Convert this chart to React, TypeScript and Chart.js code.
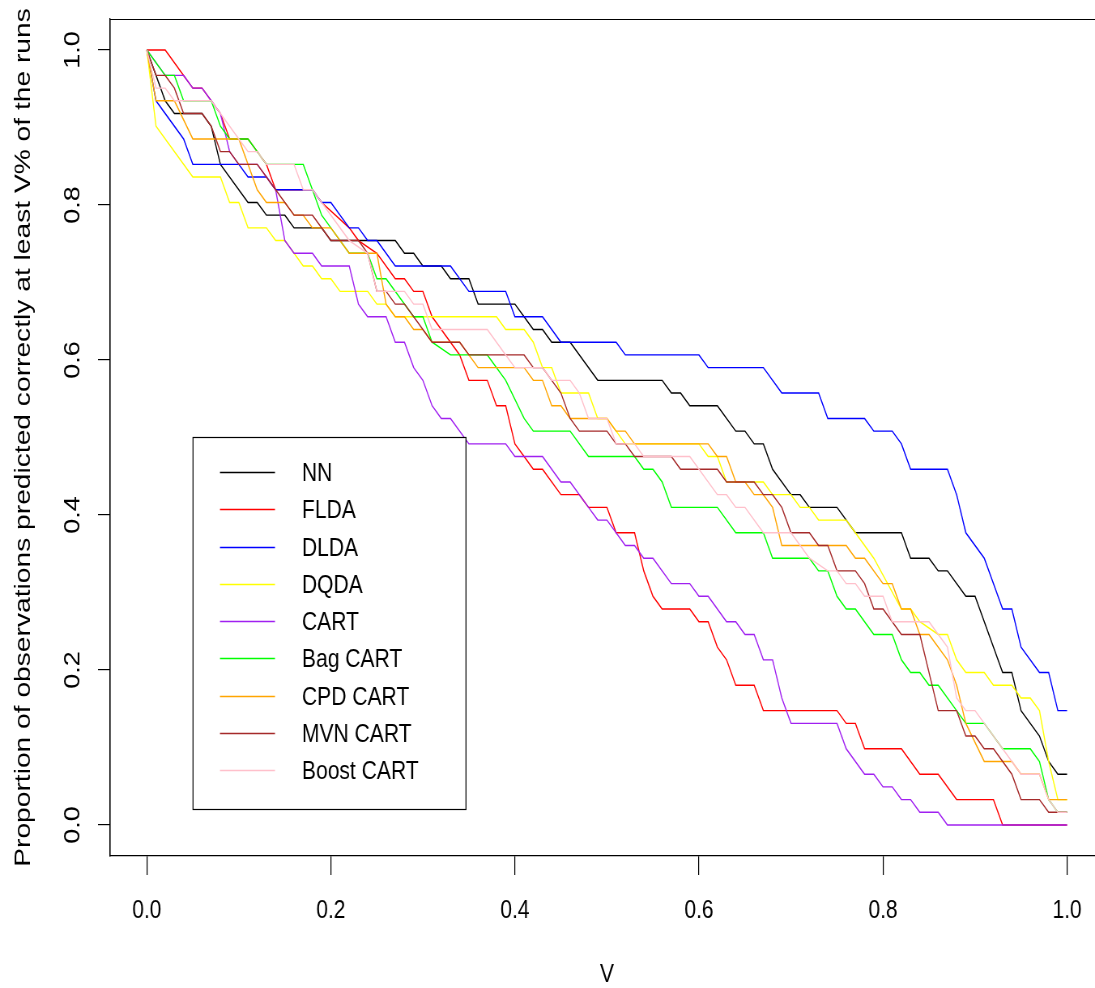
import React, { useEffect, useRef } from "react";
import { Chart, registerables } from "chart.js";

Chart.register(...registerables);

if (typeof document !== "undefined") document.body.style.margin = "0";

// number of observations (proportions are counts / N_OBS)
const N_OBS = 61;

const seriesNames = ["NN", "FLDA", "DLDA", "DQDA", "CART", "Bag CART", "CPD CART", "MVN CART", "Boost CART"];
const seriesColors = ["#000000", "#FF0000", "#0000FF", "#FFFF00", "#A020F0", "#00FF00", "#FFA500", "#A52A2A", "#FFC0CB"];

const xTickValues = [0, 0.2, 0.4, 0.6, 0.8, 1.0];
const xTickLabels = ["0.0", "0.2", "0.4", "0.6", "0.8", "1.0"];
const yTickValues = [0, 0.2, 0.4, 0.6, 0.8, 1.0];
const yTickLabels = ["0.0", "0.2", "0.4", "0.6", "0.8", "1.0"];

const xTitle = "V";
const yTitle = "Proportion of observations predicted correctly at least V% of the runs";

// NN
const nnV = [0, .01, .02, .03, .06, .07, .08, .11, .12, .13, .15, .16, .19, .20, .27, .28, .29, .30, .32, .33, .35, .36, .40, .41, .42, .43, .44, .46, .49, .56, .57, .58, .59, .62, .64, .65, .66, .67, .68, .70, .71, .72, .75, .77, .82, .83, .85, .86, .87, .89, .90, .93, .94, .95, .97, .98, .99, 1];
const nnK = [61, 59, 57, 56, 56, 55, 52, 49, 49, 48, 48, 47, 47, 46, 46, 45, 45, 44, 44, 43, 43, 41, 41, 40, 39, 39, 38, 38, 35, 35, 34, 34, 33, 33, 31, 31, 30, 30, 28, 26, 26, 25, 25, 23, 23, 21, 21, 20, 20, 18, 18, 12, 12, 9, 7, 5, 4, 4];
// FLDA
const fldaV = [0, .02, .04, .05, .06, .07, .08, .09, .11, .13, .14, .18, .19, .22, .23, .25, .27, .28, .29, .30, .31, .34, .35, .37, .38, .39, .40, .41, .42, .43, .45, .47, .48, .50, .51, .53, .54, .55, .56, .59, .60, .61, .62, .63, .64, .66, .67, .75, .76, .77, .78, .82, .84, .86, .88, .92, .93, 1];
const fldaK = [61, 61, 59, 58, 58, 57, 56, 54, 54, 52, 50, 50, 49, 47, 46, 45, 43, 43, 42, 42, 40, 37, 35, 35, 33, 33, 30, 29, 28, 28, 26, 26, 25, 25, 23, 23, 20, 18, 17, 17, 16, 16, 14, 13, 11, 11, 9, 9, 8, 8, 6, 6, 4, 4, 2, 2, 0, 0];
// DLDA
const dldaV = [0, .01, .04, .05, .10, .11, .13, .14, .18, .19, .20, .22, .23, .24, .25, .27, .33, .35, .39, .40, .43, .45, .51, .52, .60, .61, .67, .69, .73, .74, .78, .79, .81, .82, .83, .87, .88, .89, .91, .93, .94, .95, .97, .98, .99, 1];
const dldaK = [61, 57, 54, 52, 52, 51, 51, 50, 50, 49, 49, 47, 47, 46, 46, 44, 44, 42, 42, 40, 40, 38, 38, 37, 37, 36, 36, 34, 34, 32, 32, 31, 31, 30, 28, 28, 26, 23, 21, 17, 17, 14, 12, 12, 9, 9];
// DQDA
const dqdaV = [0, .01, .05, .08, .09, .10, .11, .13, .14, .15, .17, .18, .19, .20, .21, .24, .25, .26, .27, .38, .39, .41, .42, .43, .44, .45, .48, .49, .50, .51, .52, .60, .61, .62, .63, .67, .68, .70, .71, .72, .73, .76, .77, .79, .82, .83, .84, .86, .87, .88, .89, .91, .92, .94, .95, .96, .97, .98, .99, 1];
const dqdaK = [61, 55, 51, 51, 49, 49, 47, 47, 46, 46, 44, 44, 43, 43, 42, 42, 41, 41, 40, 40, 39, 39, 38, 36, 36, 34, 34, 32, 32, 31, 30, 30, 29, 29, 27, 27, 26, 26, 25, 25, 24, 24, 23, 21, 17, 17, 16, 15, 15, 13, 12, 12, 11, 11, 10, 10, 9, 5, 2, 2];
// CART
const cartV = [0, .02, .04, .05, .06, .07, .08, .09, .10, .12, .13, .14, .15, .16, .18, .19, .22, .23, .24, .26, .27, .28, .29, .30, .31, .32, .33, .35, .39, .40, .43, .45, .46, .48, .49, .50, .52, .53, .54, .55, .57, .59, .60, .61, .63, .64, .65, .66, .67, .68, .69, .70, .75, .76, .78, .79, .80, .81, .82, .83, .84, .86, .87, 1];
const cartK = [61, 59, 59, 58, 58, 57, 56, 53, 52, 52, 51, 50, 46, 45, 45, 44, 44, 41, 40, 40, 38, 38, 36, 35, 33, 32, 32, 30, 30, 29, 29, 27, 27, 25, 24, 24, 22, 22, 21, 21, 19, 19, 18, 18, 16, 16, 15, 15, 13, 13, 10, 8, 8, 6, 4, 4, 3, 3, 2, 2, 1, 1, 0, 0];
// Bag CART
const bagV = [0, .02, .03, .04, .07, .08, .09, .11, .13, .17, .19, .20, .22, .24, .25, .26, .29, .30, .31, .33, .37, .39, .41, .42, .46, .48, .53, .54, .55, .56, .57, .62, .64, .67, .68, .72, .73, .74, .75, .76, .77, .79, .81, .82, .83, .84, .85, .86, .88, .89, .91, .93, .96, .97, .98, .99, 1];
const bagK = [61, 59, 59, 57, 57, 55, 54, 54, 52, 52, 48, 47, 45, 45, 43, 43, 40, 40, 38, 37, 37, 35, 32, 31, 31, 29, 29, 28, 28, 27, 25, 25, 23, 23, 21, 21, 20, 20, 18, 17, 17, 15, 15, 13, 12, 12, 11, 11, 9, 8, 8, 6, 6, 5, 2, 1, 1];
// CPD CART
const cpdV = [0, .01, .03, .05, .10, .12, .13, .15, .16, .17, .18, .20, .22, .25, .26, .27, .28, .29, .30, .31, .34, .36, .41, .42, .43, .44, .45, .46, .50, .51, .52, .53, .61, .62, .63, .64, .65, .66, .67, .68, .69, .76, .77, .78, .80, .81, .82, .83, .84, .85, .87, .88, .89, .91, .94, .95, .97, .98, 1];
const cpdK = [61, 57, 57, 54, 54, 50, 49, 49, 48, 48, 47, 47, 45, 45, 41, 40, 40, 39, 39, 38, 38, 36, 36, 35, 35, 33, 33, 32, 32, 31, 31, 30, 30, 29, 29, 27, 27, 26, 26, 25, 22, 22, 21, 21, 19, 19, 17, 17, 15, 15, 13, 11, 8, 5, 5, 4, 4, 2, 2];
// MVN CART
const mvnV = [0, .01, .02, .03, .04, .06, .07, .08, .09, .10, .12, .14, .15, .16, .18, .20, .23, .24, .25, .26, .27, .28, .29, .31, .34, .35, .41, .42, .43, .45, .46, .47, .50, .51, .52, .53, .57, .58, .62, .63, .66, .67, .68, .69, .70, .72, .73, .74, .75, .77, .78, .79, .80, .82, .84, .86, .88, .89, .90, .91, .92, .94, .95, .97, .98, 1];
const mvnK = [61, 59, 59, 58, 56, 56, 55, 53, 53, 52, 52, 50, 49, 48, 48, 46, 46, 45, 42, 42, 41, 41, 40, 38, 38, 37, 37, 36, 36, 34, 32, 31, 31, 30, 30, 29, 29, 28, 28, 27, 27, 26, 26, 25, 23, 23, 22, 22, 20, 20, 19, 17, 17, 15, 15, 9, 9, 7, 7, 6, 6, 4, 2, 2, 1, 1];
// Boost CART
const boostV = [0, .01, .02, .03, .07, .08, .10, .11, .12, .13, .16, .17, .18, .19, .22, .24, .25, .28, .29, .30, .31, .37, .39, .40, .43, .44, .46, .47, .48, .50, .51, .53, .54, .59, .62, .63, .64, .65, .67, .70, .72, .74, .75, .76, .77, .78, .80, .81, .85, .87, .88, .89, .90, .91, .93, .95, .97, .98, .99, 1];
const boostK = [61, 58, 58, 57, 57, 56, 54, 53, 53, 52, 52, 50, 50, 49, 46, 45, 42, 42, 41, 41, 39, 39, 37, 36, 36, 35, 35, 34, 32, 32, 30, 30, 29, 29, 26, 26, 25, 25, 23, 23, 21, 20, 20, 19, 19, 18, 18, 16, 16, 14, 10, 9, 9, 8, 6, 4, 4, 2, 1, 1];

const FONT = "'Liberation Sans', Arial, sans-serif";

// The original figure is horizontally compressed; the canvas is drawn wide and squeezed.
const SX = 0.81;
const PAGE_W = 1112;
const PAGE_H = 988;
const CANVAS_W = Math.round(PAGE_W / SX);

const framePlugin = {
  id: "rframe",
  afterDraw(chart: any) {
    const { ctx, chartArea: a } = chart;
    ctx.save();
    ctx.strokeStyle = "#000";
    ctx.lineWidth = 1.2;
    const l = a.left, t = Math.round(a.top) + 0.5, r = a.right, b = Math.round(a.bottom) + 0.5;
    ctx.beginPath();
    ctx.moveTo(l, b);
    ctx.lineTo(l, t);
    ctx.lineTo(r, t);
    ctx.lineTo(r, b);
    ctx.stroke();

    // legend box (page coordinates converted to canvas coordinates)
    const lx = 193 / SX, ly = 437.5, lw = 273 / SX, lh = 372;
    ctx.fillStyle = "#fff";
    ctx.fillRect(lx, ly, lw, lh);
    ctx.lineWidth = 1.2;
    ctx.strokeRect(lx, ly, lw, lh);
    const rowTop = 472;
    const rowStep = 37.25;
    ctx.font = `26px ${FONT}`;
    ctx.textBaseline = "middle";
    ctx.textAlign = "left";
    chart.data.datasets.forEach((ds: any, i: number) => {
      const y = Math.round(rowTop + i * rowStep) + 0.5;
      ctx.strokeStyle = ds.borderColor;
      ctx.lineWidth = 1.3;
      ctx.beginPath();
      ctx.moveTo(220 / SX, y);
      ctx.lineTo(275 / SX, y);
      ctx.stroke();
      ctx.fillStyle = "#000";
      ctx.fillText(ds.label, 302 / SX, y + 1);
    });
    ctx.restore();
  },
};

export default function App() {
  const ref = useRef<HTMLCanvasElement>(null);
  useEffect(() => {
    document.body.style.margin = "0";
    const canvas = ref.current;
    if (!canvas) return;
    const series = [
      [nnV, nnK], [fldaV, fldaK], [dldaV, dldaK], [dqdaV, dqdaK], [cartV, cartK],
      [bagV, bagK], [cpdV, cpdK], [mvnV, mvnK], [boostV, boostK],
    ];
    const chart = new Chart(canvas, {
      type: "line",
      data: {
        datasets: series.map(([vs, ks], i) => ({
          label: seriesNames[i],
          data: vs.map((x, j) => ({ x, y: ks[j] / N_OBS })),
          borderColor: seriesColors[i],
          backgroundColor: seriesColors[i],
          borderWidth: 1.4,
          pointRadius: 0,
          tension: 0,
          fill: false,
          order: seriesNames.length - i,
        })),
      },
      options: {
        responsive: false,
        animation: false,
        devicePixelRatio: 1,
        events: [],
        layout: { padding: { top: 19, right: CANVAS_W - 1104 / SX, left: 0, bottom: 0 } },
        plugins: { legend: { display: false }, tooltip: { enabled: false } },
        scales: {
          x: {
            type: "linear",
            position: "bottom",
            min: -0.04,
            max: 1.04,
            afterBuildTicks: (s: any) => {
              s.ticks = xTickValues.map((value) => ({ value }));
            },
            afterFit: (s: any) => {
              s.height = 132;
            },
            grid: { display: true, drawOnChartArea: false, drawTicks: true, tickLength: 19, color: "#000", lineWidth: 1.2 },
            border: { display: true, color: "#000", width: 1.2 },
            ticks: {
              color: "#000",
              font: { family: FONT, size: 26, lineHeight: 1.2 },
              padding: 20,
              minRotation: 0,
              maxRotation: 0,
              autoSkip: false,
              callback: (_v: any, i: number) => xTickLabels[i],
            },
            title: {
              display: true,
              text: xTitle,
              color: "#000",
              font: { family: FONT, size: 26, lineHeight: 1 },
              padding: { top: 0, bottom: 0 },
            },
          },
          y: {
            type: "linear",
            position: "left",
            min: -0.04,
            max: 1.04,
            afterBuildTicks: (s: any) => {
              s.ticks = yTickValues.map((value) => ({ value }));
            },
            afterFit: (s: any) => {
              s.width = 110 / SX;
              s.paddingTop = 0;
              s.paddingBottom = 0;
            },
            grid: { display: true, drawOnChartArea: false, drawTicks: true, tickLength: 12 / SX, color: "#000", lineWidth: 1.2 },
            border: { display: true, color: "#000", width: 1.3 },
            ticks: {
              color: "#000",
              font: { family: FONT, size: 27, lineHeight: 0.4 },
              padding: 12,
              minRotation: 90,
              maxRotation: 90,
              crossAlign: "center",
              autoSkip: false,
              callback: (_v: any, i: number) => yTickLabels[i],
            },
            title: {
              display: true,
              text: yTitle,
              color: "#000",
              font: { family: FONT, size: 28.2, lineHeight: 1 },
              padding: { top: 15.5, bottom: 0 },
            },
          },
        },
      },
      plugins: [framePlugin],
    } as any);
    return () => chart.destroy();
  }, []);
  return (
    <div style={{ width: 1095, height: PAGE_H, overflow: "hidden", position: "relative" }}>
      <canvas
        ref={ref}
        width={CANVAS_W}
        height={PAGE_H}
        style={{ display: "block", width: PAGE_W, height: PAGE_H }}
      />
    </div>
  );
}
